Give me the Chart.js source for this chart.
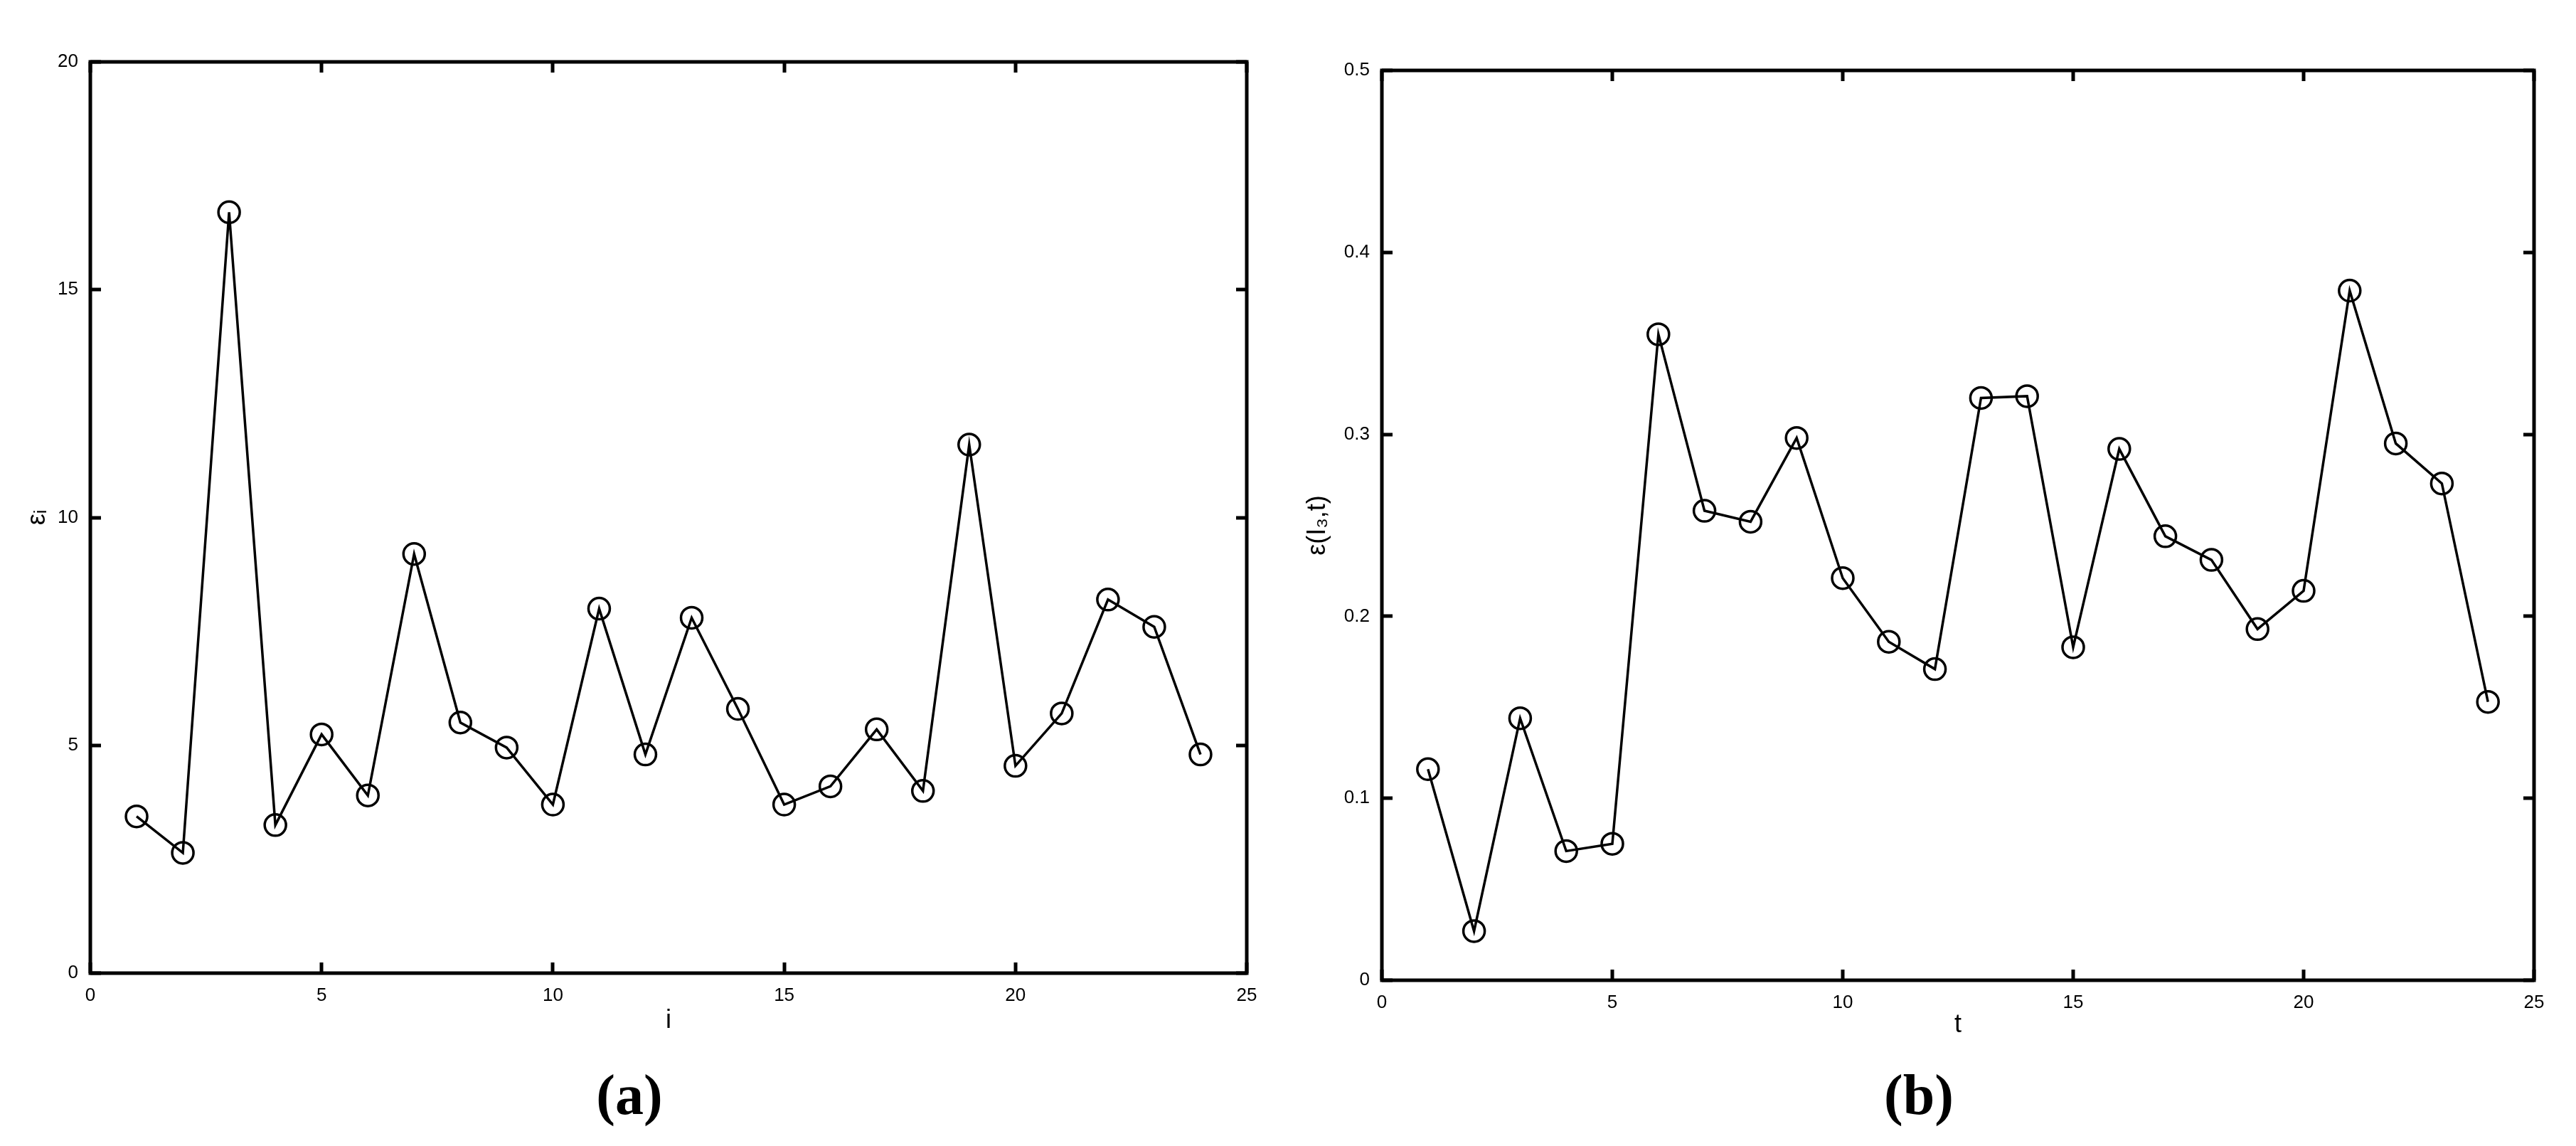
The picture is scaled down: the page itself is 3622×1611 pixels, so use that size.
<!DOCTYPE html>
<html>
<head>
<meta charset="utf-8">
<script src="https://cdn.jsdelivr.net/npm/chart.js@4.4.1/dist/chart.umd.min.js"></script>
<style>
  html, body { margin: 0; padding: 0; background: #fff; }
  body { width: 3622px; height: 1611px; position: relative; overflow: hidden; }
  .panel { position: absolute; top: 0; height: 1611px; }
  .caption {
    position: absolute; top: 1492px; width: 200px; text-align: center;
    font-family: "Liberation Serif", serif; font-weight: bold; font-size: 80px; line-height: 94px;
    color: #000;
  }
</style>
</head>
<body>
<div class="panel" id="panelA" style="left:0; width:1800px;"><canvas id="chartA"></canvas></div>
<div class="panel" id="panelB" style="left:1800px; width:1822px;"><canvas id="chartB"></canvas></div>
<div class="caption" style="left:785px;">(a)</div>
<div class="caption" style="left:2598px;">(b)</div>

<script>
// x positions (i / t)
const steps = [1, 2, 3, 4, 5, 6, 7, 8, 9, 10, 11, 12, 13, 14, 15, 16, 17, 18, 19, 20, 21, 22, 23, 24];

// panel (a): epsilon_i
const epsI = [3.44, 2.64, 16.7, 3.25, 5.24, 3.9, 9.2, 5.5, 4.95, 3.7, 8.0, 4.8,
              7.8, 5.8, 3.7, 4.1, 5.35, 4.0, 11.6, 4.55, 5.7, 8.2, 7.6, 4.8];

// panel (b): epsilon(I3, t)
const epsT = [0.116, 0.027, 0.144, 0.071, 0.075, 0.355, 0.258, 0.252, 0.298, 0.221, 0.186, 0.171,
              0.320, 0.321, 0.183, 0.292, 0.244, 0.231, 0.193, 0.214, 0.379, 0.295, 0.273, 0.153];

const xTicksA = [0, 5, 10, 15, 20, 25];
const yTicksA = [0, 5, 10, 15, 20];
const xTicksB = [0, 5, 10, 15, 20, 25];
const yTicksB = [0, 0.1, 0.2, 0.3, 0.4, 0.5];

const tickFont = { family: '"Liberation Sans", Arial, sans-serif', size: 26 };
const titleFont = { family: '"Liberation Sans", Arial, sans-serif', size: 36 };

// box around the plot with inward ticks on all four sides
const framePlugin = {
    id: 'frame',
    afterDraw(chart) {
        const { ctx, chartArea: a, scales } = chart;
        const len = 15;
        ctx.save();
        ctx.strokeStyle = '#000';
        ctx.lineWidth = 5;
        ctx.lineCap = 'butt';
        ctx.beginPath();
        scales.x.ticks.forEach(t => {
            const px = Math.round(scales.x.getPixelForValue(t.value));
            ctx.moveTo(px, a.bottom); ctx.lineTo(px, a.bottom - len);
            ctx.moveTo(px, a.top); ctx.lineTo(px, a.top + len);
        });
        scales.y.ticks.forEach(t => {
            const py = Math.round(scales.y.getPixelForValue(t.value));
            ctx.moveTo(a.left, py); ctx.lineTo(a.left + len, py);
            ctx.moveTo(a.right, py); ctx.lineTo(a.right - len, py);
        });
        ctx.stroke();
        ctx.strokeRect(a.left, a.top, a.right - a.left, a.bottom - a.top);
        ctx.restore();
    }
};

function makeChart(id, values, opts) {
    const ctx = document.getElementById(id).getContext('2d');
    return new Chart(ctx, {
        type: 'line',
        data: {
            datasets: [{
                data: steps.map((s, k) => ({ x: s, y: values[k] })),
                borderColor: '#000',
                borderWidth: 3.5,
                pointStyle: 'circle',
                pointRadius: 15,
                pointBorderWidth: 3.5,
                pointBorderColor: '#000',
                pointBackgroundColor: 'rgba(0,0,0,0)',
                tension: 0,
                fill: false
            }]
        },
        options: {
            responsive: true,
            maintainAspectRatio: false,
            animation: false,
            events: [],
            layout: { padding: { top: opts.padTop, right: opts.padRight, bottom: 0, left: 0 } },
            plugins: { legend: { display: false }, tooltip: { enabled: false } },
            scales: {
                x: {
                    type: 'linear',
                    min: 0,
                    max: 25,
                    afterBuildTicks: s => { s.ticks = opts.xTicks.map(v => ({ value: v })); },
                    afterFit: s => { s.height = opts.xHeight; },
                    grid: { display: false, drawTicks: false },
                    border: { display: false },
                    ticks: { color: '#000', font: tickFont, padding: 16, maxRotation: 0, autoSkip: false },
                    title: {
                        display: true, text: opts.xTitle, color: '#000', font: titleFont,
                        padding: { top: 0, bottom: opts.xTitlePad }
                    }
                },
                y: {
                    type: 'linear',
                    min: opts.yMin,
                    max: opts.yMax,
                    afterBuildTicks: s => { s.ticks = opts.yTicks.map(v => ({ value: v })); },
                    afterFit: s => { s.width = opts.yWidth; },
                    grid: { display: false, drawTicks: false },
                    border: { display: false },
                    ticks: { color: '#000', font: tickFont, padding: 17, autoSkip: false },
                    title: {
                        display: true, text: opts.yTitle, color: '#000', font: titleFont,
                        padding: { top: opts.yTitlePad, bottom: 0 }
                    }
                }
            }
        },
        plugins: [framePlugin]
    });
}

makeChart('chartA', epsI, {
    padTop: 87, padRight: 47, xHeight: 243, yWidth: 127,
    xTitle: 'i', yTitle: 'εᵢ', xTitlePad: 154, yTitlePad: 31,
    yMin: 0, yMax: 20, xTicks: xTicksA, yTicks: yTicksA
});

makeChart('chartB', epsT, {
    padTop: 99, padRight: 59, xHeight: 233, yWidth: 143,
    xTitle: 't', yTitle: 'ε(I₃,t)', xTitlePad: 148, yTitlePad: 31,
    yMin: 0, yMax: 0.5, xTicks: xTicksB, yTicks: yTicksB
});
</script>
</body>
</html>
